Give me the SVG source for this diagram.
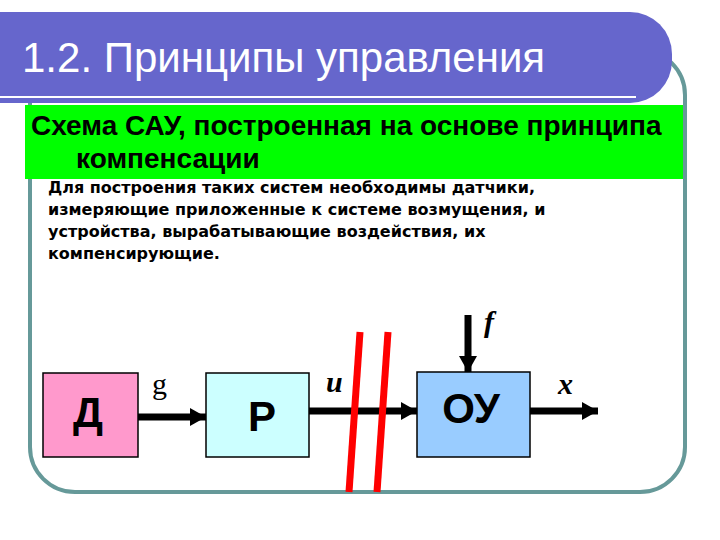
<svg xmlns="http://www.w3.org/2000/svg" width="720" height="540" viewBox="0 0 720 540">
<defs>
<style>
.frame{fill:#fff;stroke:#669999;stroke-width:4}
.title{font-family:"Liberation Sans",Arial,sans-serif;font-size:42px;fill:#fff}
.head{font-family:"Liberation Sans",Arial,sans-serif;font-size:28px;font-weight:bold;fill:#000}
.body{font-family:"DejaVu Sans",Verdana,sans-serif;font-size:16px;font-weight:bold;fill:#000}
.blk{stroke:#000;stroke-width:1.5}
.blabel{font-family:"Liberation Sans",Arial,sans-serif;font-size:42px;font-weight:bold;fill:#000;text-anchor:middle}
.var{font-family:"Liberation Serif","Times New Roman",serif;font-size:30px;fill:#000}
.it{font-style:italic;font-weight:bold}
.wire{stroke:#000;stroke-width:7;fill:none}
.cut{stroke:#ff0000;stroke-width:7}
</style>
<marker id="ah" markerUnits="userSpaceOnUse" markerWidth="16" markerHeight="18" viewBox="0 0 16 18" refX="16" refY="9" orient="auto">
<path d="M0,0 L16,9 L0,18 Z" fill="#000"/>
</marker>
</defs>
<rect width="720" height="540" fill="#fff"/>
<rect class="frame" x="30" y="50" width="655" height="442" rx="45" ry="45"/>
<path d="M0,12 H630 A42,42 0 0 1 672,54 V61 A42,42 0 0 1 630,103 H0 Z" fill="#6666CC"/>
<line x1="0" y1="97" x2="636" y2="97" stroke="#fff" stroke-width="2"/>
<text class="title" x="22" y="72">1.2. Принципы управления</text>
<rect x="25" y="105" width="658" height="74" fill="#00ff00"/>
<text class="head" x="31" y="135">Схема САУ, построенная на основе принципа</text>
<text class="head" x="76" y="168">компенсации</text>
<text class="body" x="48" y="193">Для построения таких систем необходимы датчики,</text>
<text class="body" x="48" y="215">измеряющие приложенные к системе возмущения, и</text>
<text class="body" x="48" y="237">устройства, вырабатывающие воздействия, их</text>
<text class="body" x="48" y="259">компенсирующие.</text>
<g id="connectors">
<line class="wire" x1="138" y1="417" x2="206" y2="417" marker-end="url(#ah)"/>
<line class="wire" x1="309" y1="411" x2="417" y2="411" marker-end="url(#ah)"/>
<line class="wire" x1="530" y1="411" x2="598" y2="411" marker-end="url(#ah)"/>
<line class="wire" x1="468" y1="315" x2="468" y2="372" marker-end="url(#ah)"/>
<text class="var" x="152" y="394" font-size="28">g</text>
<text class="var it" x="326" y="392">u</text>
<text class="var it" x="558" y="394">x</text>
<text class="var it" x="484" y="332">f</text>
<line class="cut" x1="360" y1="332" x2="349" y2="492"/>
<line class="cut" x1="388" y1="332" x2="377" y2="492"/>
</g>
<g id="node-d">
<rect class="blk" x="43" y="373" width="95" height="84" fill="#ff99cc"/>
<text class="blabel" x="88" y="427">Д</text>
</g>
<g id="node-r">
<rect class="blk" x="206" y="373" width="103" height="84" fill="#ccffff"/>
<text class="blabel" x="262" y="431">Р</text>
</g>
<g id="node-ou">
<rect class="blk" x="417" y="372" width="113" height="85" fill="#99ccff"/>
<text class="blabel" x="471" y="423">ОУ</text>
</g>
</svg>
